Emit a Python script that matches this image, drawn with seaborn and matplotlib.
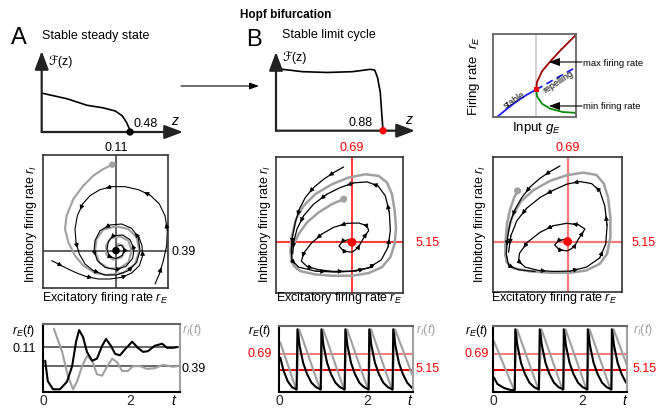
import matplotlib
matplotlib.use("Agg")
import matplotlib.pyplot as plt
import seaborn as sns

# ---------------- data ----------------
# F(z) curves (z and F in axis-fraction units)
fzA_z = [0.0, 0.18, 0.32, 0.43, 0.52, 0.57, 0.60, 0.62, 0.625]
fzA_f = [0.48, 0.41, 0.33, 0.30, 0.26, 0.20, 0.12, 0.04, 0.0]
fzB_z = [0.0, 0.19, 0.37, 0.55, 0.68, 0.71, 0.73, 0.75, 0.76, 0.77]
fzB_f = [0.79, 0.75, 0.74, 0.75, 0.78, 0.77, 0.68, 0.49, 0.24, 0.0]

# bifurcation inset (input g_E vs firing rate r_E, box units 0-1)
bif_stable_g = [0.05, 0.17, 0.29, 0.41, 0.52]
bif_stable_r = [0.0, 0.10, 0.19, 0.27, 0.33]
bif_rep_g = [0.52, 1.0]
bif_rep_r = [0.33, 0.60]
bif_max_g = [0.52, 0.53, 0.59, 0.69, 0.81, 1.0]
bif_max_r = [0.33, 0.42, 0.55, 0.67, 0.80, 0.99]
bif_min_g = [0.52, 0.53, 0.59, 0.69, 0.84, 1.0]
bif_min_r = [0.33, 0.25, 0.16, 0.10, 0.06, 0.05]
g_hopf = 0.52

# phase plane A (box units: x 0-375, y 0-399)
pA_fixed = (219, 112)
pA_gray_x = [208, 181, 151, 121, 91, 71, 66, 76, 96, 121, 156, 191, 241, 276, 289, 281, 256, 219, 181, 161,
             156, 169, 196, 229, 256, 266, 256, 231, 203, 189, 191, 211, 236, 246, 240, 225]
pA_gray_y = [370, 357, 337, 307, 267, 217, 177, 137, 97, 67, 45, 39, 45, 72, 112, 152, 177, 185, 175, 147,
             112, 77, 59, 59, 77, 112, 142, 155, 149, 127, 99, 85, 92, 112, 127, 132]
pA_blk1_x = [336, 349, 361, 371, 373, 366, 349, 321, 286, 246, 206, 171, 141, 119, 103, 96, 99, 109, 126, 151,
             186, 221, 256, 281, 291, 286, 266, 236, 201, 171, 156, 153, 163, 186, 219, 249, 269, 273, 261, 239,
             211, 196, 192, 199, 219, 238, 244, 236, 222]
pA_blk1_y = [12, 42, 82, 127, 172, 217, 252, 279, 295, 304, 304, 295, 277, 252, 217, 177, 137, 102, 72, 52,
             39, 39, 52, 77, 112, 152, 179, 192, 189, 172, 142, 112, 82, 62, 55, 65, 89, 117, 145, 159,
             157, 140, 115, 95, 88, 98, 115, 128, 126]
pA_blk2_x = [26, 46, 71, 101, 131, 166, 201, 236, 266, 289, 299, 297, 287]
pA_blk2_y = [82, 72, 59, 45, 34, 27, 27, 32, 45, 67, 97, 127, 155]

# phase plane B (box units: x 0-381, y 0-410)
pB_fixed = (228, 153)
pB_gray_x = [203, 168, 128, 93, 68, 50, 46, 53, 73, 118, 168, 228, 278, 318, 343, 356, 360, 356, 348, 333,
             308, 268, 218, 168, 118, 83, 60, 48, 43, 48, 63]
pB_gray_y = [283, 268, 243, 213, 178, 138, 108, 83, 66, 56, 52, 52, 60, 78, 108, 148, 198, 248, 298, 333,
             353, 358, 348, 328, 298, 263, 223, 173, 123, 93, 73]
pB_out_x = [203, 173, 143, 113, 88, 70, 58, 50, 46, 48, 68, 118, 178, 238, 288]
pB_out_y = [380, 363, 343, 318, 288, 253, 213, 173, 128, 98, 78, 66, 63, 66, 78]
pB_in_x = [226, 201, 189, 203, 228, 246, 257, 268, 278, 273, 248, 213, 173, 138, 106, 83, 76, 93, 128,
           173, 228, 278, 316, 336, 343, 340, 328, 306, 273, 233, 193, 153, 113, 83, 63, 53, 50]
pB_in_y = [162, 157, 142, 126, 123, 136, 156, 174, 188, 203, 211, 210, 198, 178, 150, 120, 96, 80, 70,
           65, 66, 76, 100, 138, 188, 243, 293, 323, 335, 332, 318, 298, 268, 233, 193, 153, 118]

# phase plane C (box units: x 0-389, y 0-407)
pC_fixed = (225, 152)
pC_gray_x = [74, 64, 52, 42, 38, 37, 42, 60, 112, 172, 232, 282, 322, 344, 354, 354, 347, 334, 312, 272,
             222, 172, 122, 84, 57, 42, 37, 42]
pC_gray_y = [305, 285, 250, 205, 155, 115, 90, 72, 62, 58, 58, 65, 85, 115, 165, 225, 285, 327, 353, 360,
             352, 335, 307, 273, 225, 170, 120, 90]
pC_out_x = [202, 172, 142, 112, 87, 67, 52, 44, 40, 47, 77, 127]
pC_out_y = [380, 363, 343, 317, 285, 250, 210, 165, 115, 80, 67, 62]
pC_in_x = [222, 198, 186, 200, 225, 245, 256, 268, 277, 257, 222, 182, 142, 104, 80, 77, 97, 137, 182,
           232, 282, 322, 340, 344, 337, 322, 297, 262, 222, 182, 142, 102, 72, 54, 47]
pC_in_y = [160, 155, 142, 127, 124, 136, 157, 175, 190, 203, 207, 200, 180, 150, 117, 93, 75, 65, 62,
           63, 75, 103, 145, 200, 260, 305, 327, 333, 325, 307, 285, 253, 215, 170, 120]

# time courses (t, normalised rate)
tsA_t_E = [0.05, 0.11, 0.23, 0.39, 0.55, 0.67, 0.76, 0.83, 0.92, 1.01, 1.13, 1.24, 1.36, 1.45, 1.56, 1.66,
           1.77, 1.89, 2.05, 2.18, 2.30, 2.41, 2.57, 2.74, 2.85, 2.99, 3.08]
tsA_E = [0.46, 0.16, 0.04, 0.04, 0.15, 0.38, 0.74, 0.91, 0.81, 0.59, 0.46, 0.49, 0.68, 0.78, 0.68, 0.56,
         0.54, 0.63, 0.74, 0.65, 0.59, 0.60, 0.68, 0.71, 0.65, 0.65, 0.66]
tsA_t_I = [0.25, 0.44, 0.57, 0.69, 0.78, 0.90, 1.01, 1.13, 1.24, 1.36, 1.47, 1.59, 1.70, 1.82, 1.95, 2.07,
           2.23, 2.39, 2.57, 2.76, 2.99, 3.10]
tsA_I = [0.93, 0.59, 0.24, 0.04, 0.15, 0.38, 0.53, 0.46, 0.26, 0.24, 0.37, 0.49, 0.44, 0.31, 0.31, 0.38,
         0.38, 0.34, 0.35, 0.40, 0.37, 0.38]
tsA_levels = [0.66, 0.38]

tsB_t_E = [0.03, 0.10, 0.20, 0.30, 0.40, 0.42, 0.47, 0.55, 0.64, 0.74, 0.85, 0.95, 0.965, 1.015, 1.095, 1.185,
           1.285, 1.395, 1.495, 1.51, 1.56, 1.64, 1.73, 1.83, 1.94, 2.04, 2.055, 2.105, 2.185, 2.275, 2.375,
           2.485, 2.585, 2.60, 2.65, 2.73, 2.82, 2.92, 3.03]
tsB_E = [0.52, 0.33, 0.16, 0.07, 0.04, 0.95, 0.70, 0.44, 0.27, 0.14, 0.07, 0.04, 0.95, 0.70, 0.44, 0.27,
         0.14, 0.07, 0.04, 0.95, 0.70, 0.44, 0.27, 0.14, 0.07, 0.04, 0.95, 0.70, 0.44, 0.27, 0.14,
         0.07, 0.04, 0.95, 0.70, 0.44, 0.27, 0.14, 0.06]
tsB_t_I = [0.03, 0.40, 0.46, 0.945, 1.005, 1.49, 1.55, 2.035, 2.095, 2.58, 2.64, 3.04]
tsB_I = [0.75, 0.02, 0.95, 0.02, 0.95, 0.02, 0.95, 0.02, 0.95, 0.02, 0.95, 0.25]
tsB_levels = [0.58, 0.33]

tsC_t_E = [0.02, 0.10, 0.25, 0.40, 0.49, 0.50, 0.55, 0.63, 0.72, 0.82, 0.93, 1.03, 1.05, 1.10, 1.18, 1.27,
           1.37, 1.48, 1.58, 1.59, 1.64, 1.72, 1.81, 1.91, 2.02, 2.12, 2.13, 2.18, 2.26, 2.35, 2.45, 2.56,
           2.66, 2.67, 2.72, 2.80, 2.89, 2.99]
tsC_E = [0.22, 0.12, 0.06, 0.03, 0.03, 0.95, 0.70, 0.44, 0.27, 0.14, 0.07, 0.04, 0.95, 0.70, 0.44, 0.27,
         0.14, 0.07, 0.04, 0.95, 0.70, 0.44, 0.27, 0.14, 0.07, 0.04, 0.95, 0.70, 0.44, 0.27, 0.14, 0.07,
         0.04, 0.95, 0.70, 0.44, 0.27, 0.14]
tsC_t_I = [0.02, 0.48, 0.54, 1.03, 1.09, 1.57, 1.63, 2.11, 2.17, 2.65, 2.71, 3.0]
tsC_I = [0.77, 0.02, 0.95, 0.02, 0.95, 0.02, 0.95, 0.02, 0.95, 0.02, 0.95, 0.42]
tsC_levels = [0.58, 0.33]

# ---------------- styling ----------------
sns.set_style("white")
plt.rcParams['font.family'] = ['Liberation Sans', 'DejaVu Sans']
plt.rcParams['mathtext.fontset'] = 'custom'
plt.rcParams['mathtext.rm'] = 'Liberation Sans'
plt.rcParams['mathtext.it'] = 'Liberation Sans:italic'

W, H = 661, 414
fig = plt.figure(figsize=(W / 100, H / 100), dpi=100)

GRAY = '#a0a0a0'
SALMON = '#f47a7a'


def px_axes(x0, y0, x1, y1):
    ax = fig.add_axes([x0 / W, 1 - y1 / H, (x1 - x0) / W, (y1 - y0) / H])
    ax.set_facecolor('none')
    return ax


def curve(ax, x, y, **kw):
    sns.lineplot(x=x, y=y, sort=False, estimator=None, ax=ax, legend=False, **kw)


def heads(ax, x, y, step, start=1):
    for i in range(start, len(x) - 1, step):
        mx, my = (x[i] + x[i + 1]) / 2, (y[i] + y[i + 1]) / 2
        ax.annotate('', xy=(mx, my), xytext=(x[i], y[i]),
                    arrowprops=dict(arrowstyle='-|>,head_length=0.6,head_width=0.3',
                                    color='k', lw=0.6, shrinkA=0, shrinkB=0, mutation_scale=4.5))


# ---------------- F(z) panels ----------------
def fz_panel(box, z, f, dot_color):
    ax = px_axes(*box)
    ax.set_xlim(0, 1)
    ax.set_ylim(0, 1)
    ax.axis('off')
    curve(ax, z, f, color='k', lw=1.2)
    sns.scatterplot(x=[z[-1]], y=[f[-1]], color=dot_color, s=28, ax=ax, zorder=5, clip_on=False,
                    edgecolor='none', legend=False)
    for tip in [(1, 0), (0, 1)]:
        ax.annotate('', xy=tip, xytext=(0, 0), xycoords='axes fraction',
                    arrowprops=dict(arrowstyle='-|>,head_length=0.8,head_width=0.3', color='#222',
                                    lw=1.6, shrinkA=0, shrinkB=0, mutation_scale=14))
    return ax


fz_panel((41.7, 52, 183, 133), fzA_z, fzA_f, 'k')
fz_panel((276, 53, 415, 131.7), fzB_z, fzB_f, 'red')

# ---------------- bifurcation inset ----------------
bx = px_axes(493, 35, 576, 118)
bx.set_xlim(0, 1)
bx.set_ylim(0, 1)
bx.set_xticks([])
bx.set_yticks([])
for s in bx.spines.values():
    s.set_color('#666')
    s.set_linewidth(1.3)
bx.axvline(g_hopf, color='#cccccc', lw=1.2)
curve(bx, bif_stable_g, bif_stable_r, color='#1f1fff', lw=1.3)
curve(bx, bif_rep_g, bif_rep_r, color='#1f1fff', lw=1.3, linestyle=(0, (4, 2.5)))
curve(bx, bif_max_g, bif_max_r, color='#a00000', lw=1.3)
curve(bx, bif_min_g, bif_min_r, color='#0a8a0a', lw=1.3)
sns.scatterplot(x=[g_hopf], y=[bif_stable_r[-1]], marker='s', color='red', s=14, ax=bx, zorder=5,
                edgecolor='none', legend=False)


# ---------------- phase planes ----------------
def phase(box, xmax, ymax, fixed, ccol, clw):
    ax = px_axes(*box)
    ax.set_xlim(0, xmax)
    ax.set_ylim(0, ymax)
    ax.set_xticks([])
    ax.set_yticks([])
    for s in ax.spines.values():
        s.set_color('#333')
        s.set_linewidth(1.2)
    ax.axvline(fixed[0], color=ccol, lw=clw, zorder=1)
    ax.axhline(fixed[1], color=ccol, lw=clw, zorder=1)
    return ax


axA = phase((43, 156, 168, 289), 375, 399, pA_fixed, '#555555', 1.3)
curve(axA, pA_gray_x, pA_gray_y, color=GRAY, lw=1.5)
curve(axA, pA_blk1_x, pA_blk1_y, color='k', lw=0.8)
curve(axA, pA_blk2_x, pA_blk2_y, color='k', lw=0.8)
heads(axA, pA_blk1_x, pA_blk1_y, 3)
heads(axA, pA_blk2_x, pA_blk2_y, 3)
sns.scatterplot(x=[pA_gray_x[0]], y=[pA_gray_y[0]], color=GRAY, s=22, ax=axA, edgecolor='none', legend=False)
sns.scatterplot(x=[pA_fixed[0]], y=[pA_fixed[1]], color='k', s=30, ax=axA, edgecolor='none', zorder=5,
                legend=False)

axB = phase((276, 158, 403, 294), 381, 410, pB_fixed, 'red', 1.1)
curve(axB, pB_gray_x, pB_gray_y, color=GRAY, lw=1.8)
curve(axB, pB_out_x, pB_out_y, color='k', lw=0.9)
curve(axB, pB_in_x, pB_in_y, color='k', lw=0.9)
heads(axB, pB_out_x, pB_out_y, 2)
heads(axB, pB_in_x, pB_in_y, 2)
sns.scatterplot(x=[pB_gray_x[0]], y=[pB_gray_y[0]], color=GRAY, s=26, ax=axB, edgecolor='none', legend=False)
sns.scatterplot(x=[pB_fixed[0]], y=[pB_fixed[1]], color='red', s=40, ax=axB, edgecolor='none', zorder=5,
                legend=False)

axC = phase((493, 158, 622, 293), 389, 407, pC_fixed, SALMON, 1.6)
curve(axC, pC_gray_x, pC_gray_y, color=GRAY, lw=1.8)
curve(axC, pC_out_x, pC_out_y, color='k', lw=0.9)
curve(axC, pC_in_x, pC_in_y, color='k', lw=0.9)
heads(axC, pC_out_x, pC_out_y, 2)
heads(axC, pC_in_x, pC_in_y, 2)
sns.scatterplot(x=[pC_gray_x[0]], y=[pC_gray_y[0]], color=GRAY, s=26, ax=axC, edgecolor='none', legend=False)
sns.scatterplot(x=[pC_fixed[0]], y=[pC_fixed[1]], color='red', s=40, ax=axC, edgecolor='none', zorder=5,
                legend=False)


# ---------------- time courses ----------------
def tcourse(box, tmax, tE, E, tI, I, levels, lcols):
    ax = px_axes(*box)
    ax.set_xlim(0, tmax)
    ax.set_ylim(0, 1)
    ax.set_yticks([])
    ax.set_xticks([0, 2])
    ax.tick_params(axis='x', length=0, pad=1, labelsize=10)
    ax.spines['left'].set_color('k')
    ax.spines['bottom'].set_color('k')
    ax.spines['top'].set_color('#666')
    ax.spines['right'].set_color(GRAY)
    for s in ax.spines.values():
        s.set_linewidth(1.5)
    for lv, lc in zip(levels, lcols):
        ax.axhline(lv, color=lc, lw=1.4, zorder=1)
    curve(ax, tI, I, color=GRAY, lw=1.5)
    curve(ax, tE, E, color='k', lw=1.5)
    return ax


tcourse((43, 325, 180, 393), 3.15, tsA_t_E, tsA_E, tsA_t_I, tsA_I, tsA_levels, ['#666', '#666'])
tcourse((279, 327, 413, 393), 3.05, tsB_t_E, tsB_E, tsB_t_I, tsB_I, tsB_levels, [SALMON, '#e00000'])
tcourse((493, 327, 627, 393), 3.01, tsC_t_E, tsC_E, tsC_t_I, tsC_I, tsC_levels, [SALMON, '#e00000'])

# ---------------- text overlay ----------------
ov = fig.add_axes([0, 0, 1, 1])
ov.set_xlim(0, W)
ov.set_ylim(H, 0)
ov.axis('off')
ov.patch.set_alpha(0)


def t(x, y, s, ha='left', size=9, color='k', **kw):
    ov.text(x, y, s, ha=ha, va='center', fontsize=size, color=color, **kw)


t(286, 15, 'Hopf bifurcation', ha='center', size=8.5, weight='bold')
t(19, 38, 'A', ha='center', size=17)
t(254, 40, 'B', ha='center', size=17)
t(42, 36, 'Stable steady state', size=9)
t(282, 35, 'Stable limit cycle', size=9)
t(48, 62, 'ℱ(z)', size=9)
t(282, 58, 'ℱ(z)', size=9)
t(146, 124, '0.48', ha='center', size=9)
t(175, 121, '$z$', ha='center', size=10)
t(361, 123, '0.88', ha='center', size=9)
t(409, 120, '$z$', ha='center', size=10)
ov.annotate('', xy=(259, 87), xytext=(181, 87),
            arrowprops=dict(arrowstyle='-|>,head_length=0.7,head_width=0.25', color='k', lw=0.8,
                            shrinkA=0, shrinkB=0, mutation_scale=8))

# inset labels
t(474, 76, 'Firing rate  $r_E$', ha='center', size=9.5, rotation=90)
t(536, 128, 'Input $g_E$', ha='center', size=9.5)
t(583, 63, 'max firing rate', size=6.8)
t(583, 107, 'min firing rate', size=6.8)
for yy in (63, 107):
    ov.annotate('', xy=(549, yy), xytext=(582, yy),
                arrowprops=dict(arrowstyle='-|>,head_length=0.8,head_width=0.3', color='k', lw=0.8,
                                shrinkA=0, shrinkB=0, mutation_scale=8))
t(514, 100, 'stable', ha='center', size=6.5, rotation=33)
t(558, 82, 'repelling', ha='center', size=6.5, rotation=33)

# phase plane labels
for cx, x0, val_top, vcol in [(116, 43, '0.11', 'k'), (352, 277, '0.69', 'red'), (568, 492, '0.69', 'red')]:
    t(cx, 148, val_top, ha='center', size=9, color=vcol)
    t(x0 - 12, 224, 'Inhibitory firing rate $r_I$', ha='center', size=9, rotation=90)
    t(x0 - 1, 298, 'Excitatory firing rate $r_E$', size=9)
t(171, 252, '0.39', size=9)
t(416, 243, '5.15', size=9, color='red')
t(632, 243, '5.15', size=9, color='red')

# time course labels
for xl, xr, yl, vtop, vbot, vcol in [(24, 182, 349, '0.11', '0.39', 'k'),
                                     (260, 416, 354, '0.69', '5.15', 'red'),
                                     (477, 633, 354, '0.69', '5.15', 'red')]:
    t(xl, 331, '$r_E(t)$', ha='center', size=9)
    t(xr, 330, '$r_I(t)$', size=9, color=GRAY)
    t(xl, yl, vtop, ha='center', size=9, color=vcol)
    t(xr, 369, vbot, size=9, color=vcol)
for xt in (174, 410, 625):
    t(xt, 401, '$t$', ha='center', size=10)

fig.savefig('out.png', dpi=100)
